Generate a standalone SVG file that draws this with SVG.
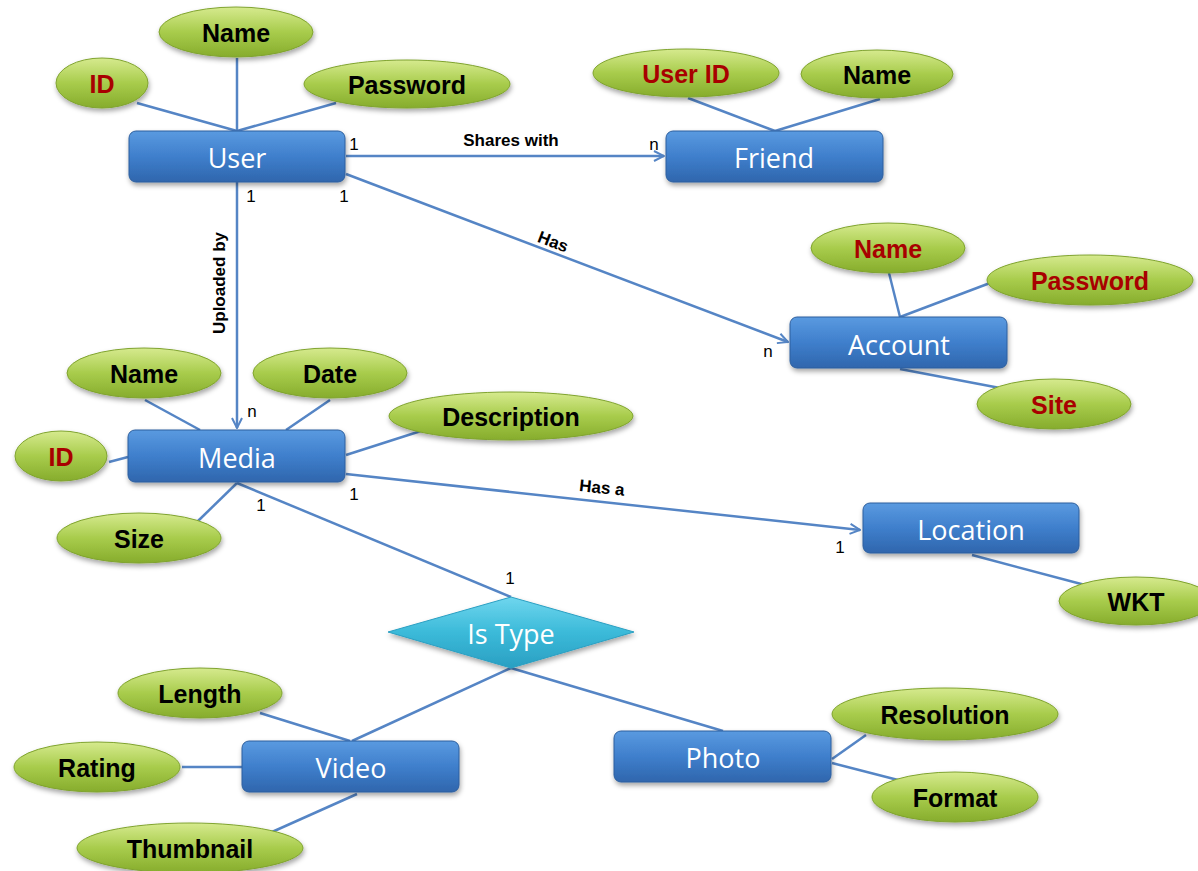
<svg xmlns="http://www.w3.org/2000/svg" width="1198" height="871" viewBox="0 0 1198 871">
<defs>
<linearGradient id="gBox" x1="0" y1="0" x2="0" y2="1">
<stop offset="0" stop-color="#5a9ae0"/><stop offset="0.5" stop-color="#3f7fcc"/><stop offset="1" stop-color="#2f66ad"/>
</linearGradient>
<linearGradient id="gEll" x1="0" y1="0" x2="0" y2="1">
<stop offset="0" stop-color="#d6ea8e"/><stop offset="0.5" stop-color="#a8cc4c"/><stop offset="1" stop-color="#86ac2c"/>
</linearGradient>
<linearGradient id="gDia" x1="0" y1="0" x2="0" y2="1">
<stop offset="0" stop-color="#6fd6ee"/><stop offset="0.5" stop-color="#3bbad9"/><stop offset="1" stop-color="#2a9fc2"/>
</linearGradient>
<filter id="sh" x="-20%" y="-30%" width="140%" height="170%">
<feDropShadow dx="1" dy="3" stdDeviation="2.5" flood-color="#000" flood-opacity="0.35"/>
</filter>
<marker id="arr" viewBox="0 0 12 12" refX="11" refY="6" markerWidth="12" markerHeight="12" markerUnits="userSpaceOnUse" orient="auto">
<path d="M1,1 L11,6 L1,11" fill="none" stroke="#5585c5" stroke-width="2"/>
</marker>
<style>
.ln{stroke:#5585c5;stroke-width:2.5;fill:none}
.box{fill:url(#gBox);stroke:#2d5f9e;stroke-width:1;filter:url(#sh)}
.ell{fill:url(#gEll);stroke:#7fa32e;stroke-width:1;filter:url(#sh)}
.dia{fill:url(#gDia);stroke:#2a9fc2;stroke-width:1;filter:url(#sh)}
.bt{font-family:"Open Sans","Liberation Sans",sans-serif;font-size:27px;fill:#ffffff;text-anchor:middle;dominant-baseline:central}
.et{font-family:"Liberation Sans",sans-serif;font-weight:bold;font-size:25px;fill:#000;text-anchor:middle;dominant-baseline:central}
.rd{fill:#a80000}
.card{font-family:"Liberation Sans",sans-serif;font-size:17px;fill:#000;text-anchor:middle;dominant-baseline:central}
.rl{font-family:"Liberation Sans",sans-serif;font-weight:bold;font-size:17px;fill:#000;text-anchor:middle;dominant-baseline:central}
</style>
</defs>
<rect width="1198" height="871" fill="#ffffff"/>
<g id="connectors">
<line class="ln" x1="137" y1="103" x2="237" y2="131"/>
<line class="ln" x1="237" y1="58" x2="237" y2="131"/>
<line class="ln" x1="336" y1="103" x2="237" y2="131"/>
<line class="ln" x1="346" y1="156" x2="664" y2="156" marker-end="url(#arr)"/>
<line class="ln" x1="346" y1="174" x2="788" y2="342" marker-end="url(#arr)"/>
<line class="ln" x1="237" y1="182" x2="237" y2="428" marker-end="url(#arr)"/>
<line class="ln" x1="688" y1="98" x2="775" y2="131"/>
<line class="ln" x1="880" y1="99" x2="775" y2="131"/>
<line class="ln" x1="889" y1="273" x2="900" y2="317"/>
<line class="ln" x1="990" y1="283" x2="900" y2="317"/>
<line class="ln" x1="900" y1="369" x2="1000" y2="388"/>
<line class="ln" x1="145" y1="400" x2="200" y2="430"/>
<line class="ln" x1="330" y1="400" x2="286" y2="430"/>
<line class="ln" x1="109" y1="462" x2="128" y2="457"/>
<line class="ln" x1="346" y1="455" x2="424" y2="430"/>
<line class="ln" x1="237" y1="483" x2="198" y2="521"/>
<line class="ln" x1="237" y1="483" x2="511" y2="597"/>
<line class="ln" x1="346" y1="474" x2="860" y2="530" marker-end="url(#arr)"/>
<line class="ln" x1="972" y1="555" x2="1085" y2="585"/>
<line class="ln" x1="511" y1="668" x2="352" y2="741"/>
<line class="ln" x1="511" y1="668" x2="723" y2="731"/>
<line class="ln" x1="260" y1="713" x2="350" y2="741"/>
<line class="ln" x1="182" y1="767" x2="242" y2="767"/>
<line class="ln" x1="272" y1="832" x2="357" y2="794"/>
<line class="ln" x1="832" y1="759" x2="866" y2="735"/>
<line class="ln" x1="832" y1="763" x2="898" y2="780"/>
<text class="rl" x="511" y="140">Shares with</text>
<text class="rl" x="553" y="242" transform="rotate(20.8 553 242)">Has</text>
<text class="rl" x="219" y="283" transform="rotate(-90 219 283)">Uploaded by</text>
<text class="rl" x="602" y="488" transform="rotate(6 602 488)">Has a</text>
<text class="card" x="354" y="144">1</text>
<text class="card" x="654" y="144">n</text>
<text class="card" x="251" y="196">1</text>
<text class="card" x="344" y="196">1</text>
<text class="card" x="768" y="351">n</text>
<text class="card" x="252" y="411">n</text>
<text class="card" x="261" y="505">1</text>
<text class="card" x="354" y="494">1</text>
<text class="card" x="840" y="547">1</text>
<text class="card" x="510" y="578">1</text>
</g>
<g id="user"><rect class="box" x="129" y="131" width="216" height="51" rx="7"/><text class="bt" x="237" y="157">User</text></g>
<g id="user-id"><ellipse class="ell" cx="102" cy="83" rx="46" ry="25"/><text class="et rd" x="102" y="84">ID</text></g>
<g id="user-name"><ellipse class="ell" cx="236" cy="32" rx="77" ry="25"/><text class="et" x="236" y="33">Name</text></g>
<g id="user-password"><ellipse class="ell" cx="407" cy="84" rx="103" ry="24"/><text class="et" x="407" y="85">Password</text></g>
<g id="friend"><rect class="box" x="666" y="131" width="217" height="51" rx="7"/><text class="bt" x="774" y="157">Friend</text></g>
<g id="friend-userid"><ellipse class="ell" cx="686" cy="73" rx="93" ry="24"/><text class="et rd" x="686" y="74">User ID</text></g>
<g id="friend-name"><ellipse class="ell" cx="877" cy="74" rx="76" ry="24"/><text class="et" x="877" y="75">Name</text></g>
<g id="account"><rect class="box" x="790" y="317" width="217" height="51" rx="7"/><text class="bt" x="899" y="344">Account</text></g>
<g id="account-name"><ellipse class="ell" cx="888" cy="248" rx="77" ry="25"/><text class="et rd" x="888" y="249">Name</text></g>
<g id="account-password"><ellipse class="ell" cx="1090" cy="280" rx="103" ry="25"/><text class="et rd" x="1090" y="281">Password</text></g>
<g id="account-site"><ellipse class="ell" cx="1054" cy="404" rx="77" ry="25"/><text class="et rd" x="1054" y="405">Site</text></g>
<g id="media"><rect class="box" x="128" y="430" width="217" height="52" rx="7"/><text class="bt" x="237" y="457">Media</text></g>
<g id="media-name"><ellipse class="ell" cx="144" cy="373" rx="77" ry="25"/><text class="et" x="144" y="374">Name</text></g>
<g id="media-date"><ellipse class="ell" cx="330" cy="373" rx="77" ry="25"/><text class="et" x="330" y="374">Date</text></g>
<g id="media-id"><ellipse class="ell" cx="61" cy="456" rx="46" ry="25"/><text class="et rd" x="61" y="457">ID</text></g>
<g id="media-description"><ellipse class="ell" cx="511" cy="416" rx="122" ry="24"/><text class="et" x="511" y="417">Description</text></g>
<g id="media-size"><ellipse class="ell" cx="139" cy="538" rx="82" ry="25"/><text class="et" x="139" y="539">Size</text></g>
<g id="location"><rect class="box" x="863" y="503" width="216" height="50" rx="7"/><text class="bt" x="971" y="529">Location</text></g>
<g id="location-wkt"><ellipse class="ell" cx="1136" cy="601" rx="77" ry="24"/><text class="et" x="1136" y="602">WKT</text></g>
<g id="is-type"><polygon class="dia" points="511,597 634,632 511,668 388,632"/><text class="bt" x="511" y="633">Is Type</text></g>
<g id="video"><rect class="box" x="242" y="741" width="217" height="51" rx="7"/><text class="bt" x="351" y="767">Video</text></g>
<g id="video-length"><ellipse class="ell" cx="200" cy="693" rx="82" ry="25"/><text class="et" x="200" y="694">Length</text></g>
<g id="video-rating"><ellipse class="ell" cx="97" cy="767" rx="83" ry="25"/><text class="et" x="97" y="768">Rating</text></g>
<g id="video-thumbnail"><ellipse class="ell" cx="190" cy="848" rx="113" ry="25"/><text class="et" x="190" y="849">Thumbnail</text></g>
<g id="photo"><rect class="box" x="614" y="731" width="217" height="51" rx="7"/><text class="bt" x="723" y="757">Photo</text></g>
<g id="photo-resolution"><ellipse class="ell" cx="945" cy="714" rx="113" ry="26"/><text class="et" x="945" y="715">Resolution</text></g>
<g id="photo-format"><ellipse class="ell" cx="955" cy="797" rx="83" ry="25"/><text class="et" x="955" y="798">Format</text></g>
</svg>
